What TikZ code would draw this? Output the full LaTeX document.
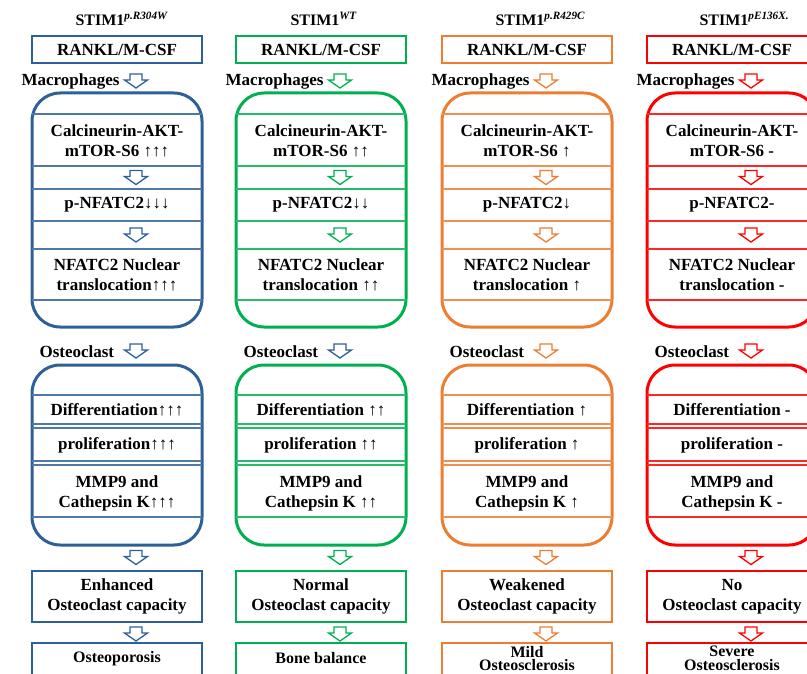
\documentclass[tikz,border=0pt]{standalone}
\usepackage{fontspec}
\setmainfont{Liberation Serif}

\definecolor{stimblue}{RGB}{46,96,152}
\definecolor{stimgreen}{RGB}{0,176,80}
\definecolor{stimorange}{RGB}{237,125,49}
\definecolor{stimred}{RGB}{255,0,0}

\begin{document}
\begin{tikzpicture}[x=1pt,y=-1pt,
  font=\bfseries\fontsize{17}{20}\selectfont,
  sbox/.style={draw=#1, line width=1.5pt, minimum width=170pt, inner sep=0pt, align=center},
  bigbox/.style={draw=#1, line width=3pt, rounded corners=28pt},
  cell/.style={draw=#1!85, line width=1.3pt},
  darr/.pic={\draw[line width=1.3pt, fill=white, pic actions]
    (-6,-7) -- (6,-7) -- (6,-1) -- (11.5,-1) -- (0,7) -- (-11.5,-1) -- (-6,-1) -- cycle;},
  txt/.style={align=center, inner sep=0pt}]
\useasboundingbox (0,0) rectangle (807,674);
\clip (0,0) rectangle (807,674);

% one column: left x, colour, name, superscript, title shift, osteoclast arrow colour, capacity, result
\def\stimcol#1#2#3#4#5#6#7#8{
  \node[anchor=base west, font=\bfseries\fontsize{16}{18}\selectfont] (#3-title) at (#1+#5,26) {STIM1\textsuperscript{\itshape #4}};
  \node[sbox=#2, minimum height=27pt] (#3-rankl) at (#1+85,49.5) {RANKL/M-CSF};
  \node[anchor=west] (#3-mac) at (#1-14,81) {Macrophages};
  \pic[draw=#2] (#3-a0) at (#1+104,81) {darr};
  \draw[bigbox=#2] (#1,93) rectangle (#1+170,327);
  \foreach \y in {114,166,189,221,249,300} \draw[cell=#2] (#1,\y) -- (#1+170,\y);
  \pic[draw=#2] (#3-a1) at (#1+104,177.5) {darr};
  \pic[draw=#2] (#3-a2) at (#1+104,235) {darr};
  \node[anchor=west] (#3-oc) at (#1+4,352) {Osteoclast};
  \pic[draw=#6] (#3-a3) at (#1+104,351) {darr};
  \draw[bigbox=#2] (#1,365) rectangle (#1+170,545);
  \foreach \y in {395,424,428,461,465,517} \draw[cell=#2] (#1,\y) -- (#1+170,\y);
  \pic[draw=#2] (#3-a4) at (#1+104,557.5) {darr};
  \node[sbox=#2, minimum height=51pt] (#3-cap) at (#1+85,596.5) {#7};
  \pic[draw=#2] (#3-a5) at (#1+104,634) {darr};
  \node[sbox=#2, minimum height=57pt] (#3-out) at (#1+85,671.5) {};
  \node[txt, font=\bfseries\fontsize{16}{13.5}\selectfont] (#3-res) at (#1+85,658.5) {#8};
}
% texts inside the two rounded boxes
\def\stimtxt#1#2#3#4#5#6#7#8{
  \node[txt] (#1-calc) at (#2,141) {Calcineurin-AKT-\\mTOR-S6#3};
  \node[txt] (#1-pnf) at (#2,205) {p-NFATC2#4};
  \node[txt] (#1-nuc) at (#2,275) {NFATC2 Nuclear\\translocation#5};
  \node[txt] (#1-dif) at (#2,410) {Differentiation#6};
  \node[txt] (#1-pro) at (#2,445) {proliferation#7};
  \node[txt] (#1-mmp) at (#2,493) {MMP9 and\\Cathepsin K#8};
}

\stimcol{32}{stimblue}{b}{p.R304W}{40}{stimblue}{Enhanced\\Osteoclast capacity}{Osteoporosis}
\stimtxt{b}{117}{ ↑↑↑}{↓↓↓}{↑↑↑}{↑↑↑}{↑↑↑}{↑↑↑}

\stimcol{236}{stimgreen}{g}{WT}{51}{stimblue}{Normal\\Osteoclast capacity}{Bone balance}
\stimtxt{g}{321}{ ↑↑}{↓↓}{ ↑↑}{ ↑↑}{ ↑↑}{ ↑↑}

\stimcol{442}{stimorange}{o}{p.R429C}{50}{stimorange}{Weakened\\Osteoclast capacity}{Mild\\Osteosclerosis}
\stimtxt{o}{527}{ ↑}{↓}{ ↑}{ ↑}{ ↑}{ ↑}

\stimcol{647}{stimred}{r}{pE136X.}{49}{stimred}{No\\Osteoclast capacity}{Severe\\Osteosclerosis}
\stimtxt{r}{732}{ -}{-}{ -}{ -}{ -}{ -}
\end{tikzpicture}
\end{document}
